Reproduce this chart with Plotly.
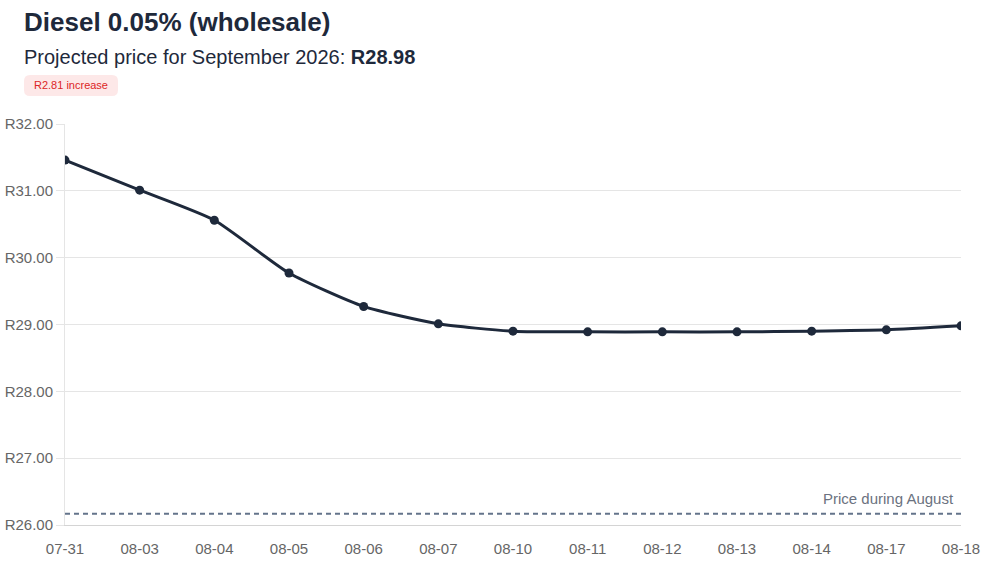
import plotly.graph_objects as go

# price data
dates = ["07-31", "08-03", "08-04", "08-05", "08-06", "08-07", "08-10",
         "08-11", "08-12", "08-13", "08-14", "08-17", "08-18"]
prices = [31.46, 31.01, 30.56, 29.77, 29.27, 29.01, 28.90,
          28.89, 28.89, 28.89, 28.90, 28.92, 28.98]
august_price = 26.17
projected = 28.98
change = 2.81

dark = "#1e293b"
font = "Arial, Liberation Sans, sans-serif"

fig = go.Figure()
fig.add_trace(go.Scatter(
    x=dates, y=prices,
    mode="lines+markers",
    line=dict(color=dark, width=3, shape="spline", smoothing=0.6),
    marker=dict(color=dark, size=9),
    hoverinfo="x+y",
))

# dashed reference for August price
fig.add_shape(type="line", xref="paper", x0=0, x1=1, yref="y",
              y0=august_price, y1=august_price,
              line=dict(color="#64748b", width=2, dash="5px,4px"))
fig.add_annotation(xref="paper", x=0.994, yref="y", y=august_price,
                   text="Price during August", showarrow=False,
                   xanchor="right", yanchor="bottom", yshift=5,
                   font=dict(size=15, color="#6b7280"))

# header
fig.add_annotation(xref="paper", yref="paper", x=-43 / 896, y=1 + 102 / 401,
                   text="<b>Diesel 0.05% (wholesale)</b>", showarrow=False,
                   xanchor="left", yanchor="middle",
                   font=dict(size=26, color=dark))
fig.add_annotation(xref="paper", yref="paper", x=-43 / 896, y=1 + 67 / 401,
                   text=f"Projected price for September 2026: <b>R{projected:.2f}</b>",
                   showarrow=False, xanchor="left", yanchor="middle",
                   font=dict(size=20, color=dark))

# badge
fig.add_shape(type="path", xref="paper", yref="paper",
              xsizemode="pixel", ysizemode="pixel", xanchor=0, yanchor=1,
              path="M -35 49 L 47 49 Q 53 49 53 43 L 53 34 Q 53 28 47 28 "
                   "L -35 28 Q -41 28 -41 34 L -41 43 Q -41 49 -35 49 Z",
              fillcolor="#fde8e8", line=dict(width=0))
fig.add_annotation(xref="paper", yref="paper", x=6 / 896, y=1 + 38.5 / 401,
                   text=f"R{change:.2f} increase", showarrow=False,
                   xanchor="center", yanchor="middle",
                   font=dict(size=11, color="#dc2626"))

fig.update_layout(
    width=983, height=562,
    margin=dict(l=65, r=22, t=124, b=37, autoexpand=False),
    plot_bgcolor="white", paper_bgcolor="white",
    showlegend=False,
    font=dict(family=font, color="#666666", size=14),
    xaxis=dict(type="category", showgrid=False, showline=True,
               linecolor="#d4d4d4", linewidth=1, ticks="outside",
               ticklen=10, tickcolor="rgba(0,0,0,0)",
               range=[0, 12], automargin=False, ticklabeloverflow="allow",
               tickfont=dict(size=15), zeroline=False),
    yaxis=dict(range=[26, 32], dtick=1, tickprefix="R", tickformat=".2f",
               gridcolor="#e5e5e5", showline=True, linecolor="#e5e5e5",
               ticks="outside", ticklen=8, tickcolor="#e5e5e5",
               automargin=False,
               tickfont=dict(size=15), zeroline=False),
)

# drop the default page margin so the figure sits at the window corner
fig.write_html("out.html",
               config={"displayModeBar": False},
               post_script="document.body.style.margin='0';"
                           "document.body.style.overflow='hidden';")
